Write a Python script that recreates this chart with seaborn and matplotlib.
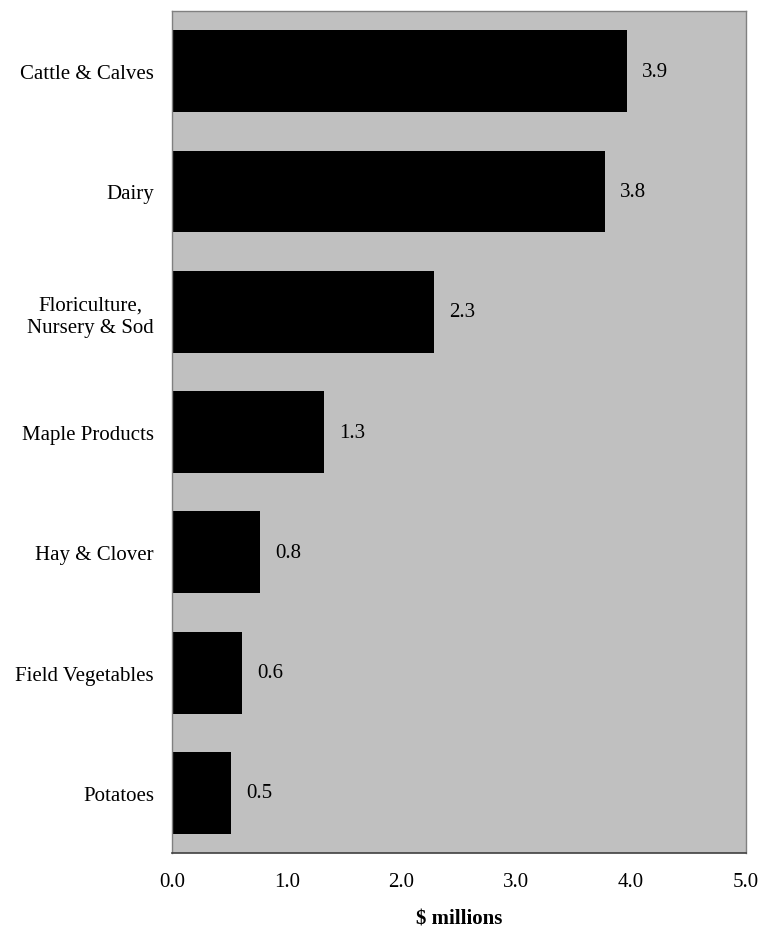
import pandas as pd
import seaborn as sns
import matplotlib.pyplot as plt

categories = ["Cattle & Calves", "Dairy", "Floriculture,\nNursery & Sod", "Maple Products",
              "Hay & Clover", "Field Vegetables", "Potatoes"]
values = [3.96, 3.77, 2.28, 1.32, 0.77, 0.61, 0.51]
value_labels = ["3.9", "3.8", "2.3", "1.3", "0.8", "0.6", "0.5"]
xticks = [0.0, 1.0, 2.0, 3.0, 4.0, 5.0]

df = pd.DataFrame({"category": categories, "value": values})

sns.set_style("white")
plt.rcParams["font.family"] = ["Liberation Serif", "DejaVu Serif"]
plt.rcParams["text.color"] = "black"
plt.rcParams["xtick.color"] = "black"
plt.rcParams["ytick.color"] = "black"

fs = 15

fig = plt.figure(figsize=(7.63, 9.29), dpi=100)
ax = fig.add_axes([0.2254, 0.0807, 0.7523, 0.9063])
ax.set_facecolor("#C0C0C0")

sns.barplot(data=df, x="value", y="category", orient="h", color="black",
            width=0.68, saturation=1, edgecolor="black", linewidth=0, ax=ax)

ax.bar_label(ax.containers[0], labels=value_labels, padding=11, fontsize=fs, color="black")

ax.set_xlim(0, 5)
ax.set_xticks(xticks)
ax.set_xticklabels([f"{t:.1f}" for t in xticks], fontsize=fs)
ax.tick_params(axis="x", direction="out", length=6, width=1, color="#404040", pad=8)
ax.tick_params(axis="y", length=0, labelsize=fs, pad=13)
for lbl in ax.get_yticklabels():
    lbl.set_multialignment("center")
    lbl.set_linespacing(1.3)

ax.set_xlabel("\\$ millions", fontsize=fs, fontweight="bold", labelpad=12, color="black")
ax.set_ylabel("")

for side in ["top", "right", "left"]:
    ax.spines[side].set_color("#808080")
    ax.spines[side].set_linewidth(1)
ax.spines["bottom"].set_color("#404040")
ax.spines["bottom"].set_linewidth(1.2)

fig.savefig("out.png", dpi=100)
